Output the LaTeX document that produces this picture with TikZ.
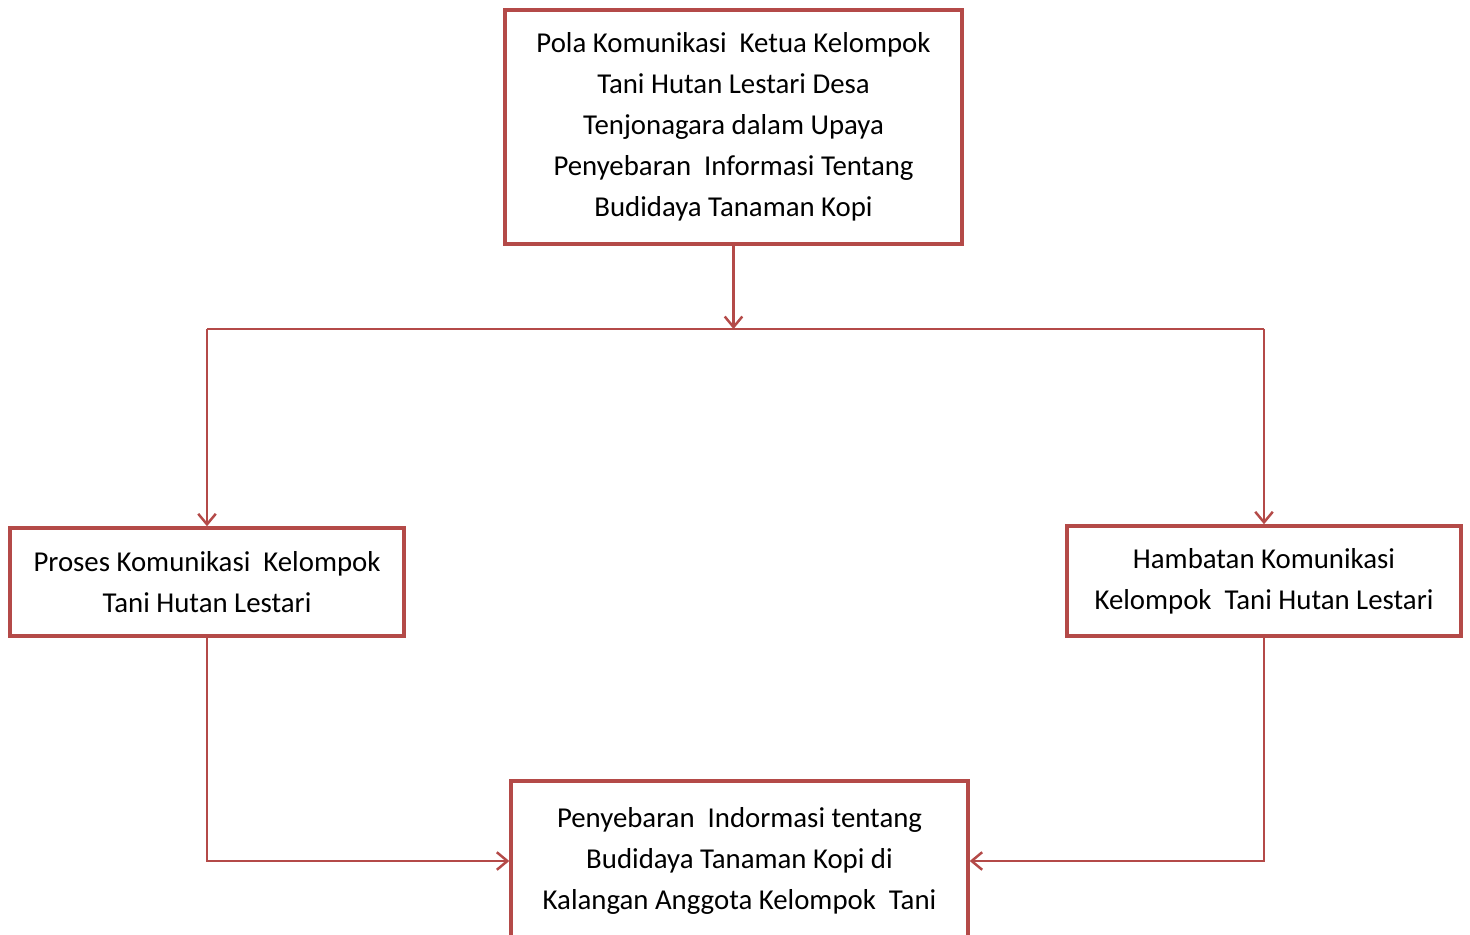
\documentclass[tikz,border=0pt]{standalone}
\usepackage{fontspec}
\setmainfont{Carlito}
\usetikzlibrary{arrows.meta, positioning}
\definecolor{merah}{RGB}{180,74,72}

\begin{document}
\begin{tikzpicture}[
    x=0.02cm, y=-0.02cm,
    kotak/.style={rectangle, draw=merah, line width=2pt, fill=white, align=center,
        inner sep=0pt, font=\fontsize{16.4}{23.3}\selectfont},
    panah/.style={draw=merah, line width=1.4pt, -{Straight Barb[length=6pt,width=10pt]}},
    garis/.style={draw=merah, line width=1.4pt}
]
\useasboundingbox (0,0) rectangle (1470,935);
\clip (0,0) rectangle (1470,935);
\node[kotak, minimum width=9.14cm, minimum height=4.68cm] (pola) at (733.5,127)
    {Pola Komunikasi\ \ Ketua Kelompok\\ Tani Hutan Lestari Desa\\ Tenjonagara dalam Upaya\\
     Penyebaran\ \ Informasi Tentang\\ Budidaya Tanaman Kopi};
\node[kotak, minimum width=7.88cm, minimum height=2.16cm] (proses) at (207,582)
    {Proses Komunikasi\ \ Kelompok\\ Tani Hutan Lestari};
\node[kotak, minimum width=7.88cm, minimum height=2.2cm] (hambatan) at (1264,581)
    {Hambatan Komunikasi\\ Kelompok\ \ Tani Hutan Lestari};
\node[kotak, minimum width=9.14cm, minimum height=3.2cm] (sebar) at (739.5,861)
    {Penyebaran\ \ Indormasi tentang\\ Budidaya Tanaman Kopi di\\ Kalangan Anggota Kelompok\ \ Tani};
\coordinate (cabang) at (733.5,329);
\draw[panah] (pola) -- (cabang);
\draw[garis] (proses.north |- cabang) -- (hambatan.north |- cabang);
\draw[panah] (proses.north |- cabang) -- (proses.north);
\draw[panah] (hambatan.north |- cabang) -- (hambatan.north);
\draw[panah] (proses.south) |- (sebar.west);
\draw[panah] (hambatan.south) |- (sebar.east);
\end{tikzpicture}
\end{document}
